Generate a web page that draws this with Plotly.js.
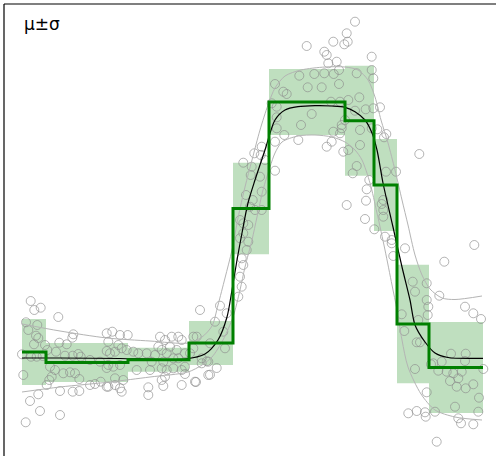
<!DOCTYPE html>
<html><head><meta charset="utf-8">
<script src="https://cdn.plot.ly/plotly-3.0.1.min.js"></script>
<style>html,body{margin:0;padding:0;background:#fff}#chart{width:496px;height:456px}</style>
</head><body><div id="chart"></div>
<script>
// Scatter samples
const ptX = [30.7,34.3,40.7,58.3,26,37.3,28.3,36,38.3,34,45,59.3,66.7,73.3,72.3,22,31,36.7,42.7,56,47.3,65,72.7,78.3,80.7,90,100,50,55,63.3,70,75,79.3,51.7,49.3,23.3,46.7,60,72.7,79.3,90,95,100.7,106.7,38.3,30,40,60,25.7,106.7,106.7,106.7,
 200,112.3,120,127.7,108.3,118.3,121.7,126.7,133.3,138.3,115,110,160,165,171.7,178.3,181.7,193.3,158.3,161.7,170,176.7,166.7,155,146.7,185,190,173.3,178.3,163.3,151.7,108.3,113.3,120,136.7,150,161.7,166.7,173.3,181.7,185,201.7,201.7,208.3,165,185,115,123.3,161.7,195,208.3,108.3,115,120,121.7,148.3,148.3,163.3,181.7,
 261.7,254.3,260.7,243.3,265,251.7,275,250.7,260,261.7,246,252.7,250,261.7,255,240,243.3,248.3,243.3,240,248.3,246.7,241.7,243.3,240,241.7,238.3,220,226.7,215,223.3,196.7,210,225,193.3,206.7,216.7,210,196,
 355,346.7,347.7,344.3,333.3,306.7,324.3,326.7,336.7,328.3,371.7,339,314.3,299.3,324.3,333.7,356.7,371.7,373.3,275,307.7,321.7,339,283.3,286.7,359.3,331,340,348.3,271.7,276.7,311.7,365.7,373.3,380,276.7,355,345,301,276.7,284.3,341.7,341.7,360,371.7,275,298.3,333.3,340,326.7,331.7,348.3,360,377.3,386.3,384,
 343.3,419.3,356.7,352.7,386,396,369.3,366.7,383.3,346.7,366,381.7,383.3,383.3,365,374.3,385,391.7,391.7,405,393.3,412.7,426.7,415,
 474.3,444.3,439.3,426.7,428.3,427.7,465,473.3,481,401.7,404.3,418.3,416.7,420,451,465.7,433.3,441.7,465,438.3,446.7,453.3,461.7,458.3,450,456.7,465.7,473.3,483.3,415,479,426.7,455,478.3,408.3,416.7,425,425.7,435,458.3,461,473.3,436.7,431];
const ptY = [301,310,307.7,317,322.3,325,330,335.7,338,344.3,345,342.7,344.3,334.3,337.7,354.3,356.7,356.7,356,351.7,350,355.7,355.7,354,356.7,360,361.7,366.7,370,373.3,372.3,373.3,379,376.7,380,375,385,391,391.7,391,385,384,381.7,386.7,394.3,401,411,415,422.3,333.3,351,368,
 310,331.7,335,335,341.7,345,348.3,350,351.7,353.3,351.7,353.3,336.7,340,336.7,336.7,340,336.7,346.7,350,346.7,350,353.3,355,353.3,353.3,353.3,358.3,358.3,361.7,361.7,365,366.7,365,370,370,368.3,370,368.3,370,366.7,358.3,363.3,361.7,376.7,374,378.3,380,380,381.7,375,386.7,385,388.3,391.7,387.3,395,386,385,
 146.7,153.3,155,162.7,160,166.7,170.7,175,176.7,191.7,195,200,206.7,210,210,220,223.3,225,233.3,238.3,241.7,250,258.3,265,276.7,286.7,296.7,305.7,313.3,321.7,331.7,336.7,343.3,348.3,348.3,361.3,368,374.7,382,
 21.7,33.3,41.7,44.3,41.7,46,51.7,55,61.7,63.3,56.7,70,74,75.7,73.3,74,73.3,70,78.3,84,87.3,87.3,84,91.7,94,97.3,101.7,101.7,100,103.3,106.7,114,109.3,108.3,107.3,117.3,110.7,120,125,128.3,135,125,128.3,130,128.3,141.7,140,131.7,133.3,146.7,141.7,150,145,129.3,134,137.3,
 151.7,154,166,173.3,171.7,171.7,180,189.3,200,205,200.7,204,210,216.7,219,229.3,236.7,240,243.3,248.3,256,281.7,283.3,291.7,
 245,261.7,295.7,300,306.7,315,306.7,313.3,319,314.3,331,320,342.3,342.3,353.7,353.7,363.3,361.7,361,370.7,371.7,373.3,371.7,378.3,381,386.7,388.3,384.3,369,369,397.7,392.3,406.7,411.7,413.3,411,412.3,416.7,411.7,418.3,423.3,424.3,441.7,364.3];

// Binned statistics
const binEdges = [22, 46, 128, 189, 233, 269, 345, 374, 397, 429, 483];
const binMean  = [352, 362.5, 359.7, 343, 208.5, 102, 120.8, 185, 324, 367.5];
const binSd    = [33, 19.5, 12, 22, 45.8, 33, 55, 46, 59.3, 45.5];

// Smooth fit (mean) and mean ± sigma
const fitX = [22, 60, 120, 185, 205, 218, 227, 232, 237, 242, 248, 255, 265, 275, 285, 298, 315, 332, 345, 355, 365, 372, 377, 383, 393, 402, 410, 415, 425, 435, 448, 483];
const fitY = [358, 358, 358.5, 359, 354, 340, 317, 290, 260, 233, 203, 180, 150, 120, 110, 106.7, 105.7, 106, 107.3, 111.7, 120, 133, 150, 183, 227, 267, 300, 325, 342, 353, 357.5, 358.3];
const upX = [22, 60, 107, 150, 188, 202, 212, 218, 225, 232, 238, 245, 252, 260, 268, 275, 285, 301, 325, 345, 358, 368, 375, 381, 388, 395, 402, 408, 415, 422, 430, 442, 455, 482];
const upY = [324, 331, 338, 341, 343, 337, 326, 305, 278, 250, 218, 187, 160, 130, 105, 88, 76, 70, 67, 67, 70, 80, 97, 120, 143, 170, 200, 225, 255, 275, 289, 298, 299.5, 296];
const loX = [22, 60, 110, 150, 188, 202, 212, 223, 233, 240, 245, 252, 257, 263, 270, 275, 282, 298, 315, 332, 345, 355, 362, 370, 377, 385, 392, 397, 402, 408, 421, 435, 455, 482];
const loY = [392, 387, 382, 377, 372, 365, 357, 340, 317, 290, 267, 240, 217, 190, 167, 153, 142, 136, 135, 137, 142, 150, 160, 183, 213, 250, 285, 310, 340, 367, 394, 410, 417, 420];

const barX = [], barW = [], barBase = [], barH = [];
for (let i = 0; i < binMean.length; i++) {
  barX.push((binEdges[i] + binEdges[i + 1]) / 2);
  barW.push(binEdges[i + 1] - binEdges[i]);
  barBase.push(binMean[i] - binSd[i]);
  barH.push(2 * binSd[i]);
}
const stepY = binMean.concat([binMean[binMean.length - 1]]);

const traces = [
  {type: 'bar', x: barX, y: barH, base: barBase, width: barW,
   marker: {color: 'rgba(0,128,0,0.25)', line: {width: 0}}, hoverinfo: 'skip'},
  {type: 'scatter', mode: 'markers', x: ptX, y: ptY,
   marker: {symbol: 'circle-open', size: 9, color: 'rgba(140,140,140,0.65)', line: {width: 1}}},
  {type: 'scatter', mode: 'lines', x: upX, y: upY, line: {color: '#b4b4b4', width: 1, shape: 'spline', smoothing: 0.8}},
  {type: 'scatter', mode: 'lines', x: loX, y: loY, line: {color: '#b4b4b4', width: 1, shape: 'spline', smoothing: 0.8}},
  {type: 'scatter', mode: 'lines', x: fitX, y: fitY, line: {color: '#000', width: 1.2, shape: 'spline', smoothing: 0.8}},
  {type: 'scatter', mode: 'lines', x: binEdges, y: stepY, line: {color: '#008000', width: 3, shape: 'hv'}}
];

const layout = {
  width: 496, height: 456,
  margin: {l: 4, r: 0, t: 4, b: 0},
  paper_bgcolor: '#fff', plot_bgcolor: '#fff',
  showlegend: false, barmode: 'overlay',
  xaxis: {range: [4, 496], showgrid: false, zeroline: false, showticklabels: false, ticks: ''},
  yaxis: {range: [456, 4], showgrid: false, zeroline: false, showticklabels: false, ticks: ''},
  shapes: [
    {type: 'line', xref: 'paper', yref: 'paper', x0: 0, x1: 0, y0: 0, y1: 1, line: {color: '#000', width: 1.2}},
    {type: 'line', xref: 'paper', yref: 'paper', x0: 0, x1: 1, y0: 1, y1: 1, line: {color: '#000', width: 1.2}}
  ],
  annotations: [
    {text: 'μ±σ', xref: 'paper', yref: 'paper', x: 0.036, y: 0.955, xanchor: 'left', yanchor: 'middle',
     showarrow: false, font: {family: 'DejaVu Sans', size: 17, color: '#000'}}
  ]
};
Plotly.newPlot('chart', traces, layout, {displayModeBar: false, staticPlot: true});
</script>
</body></html>
